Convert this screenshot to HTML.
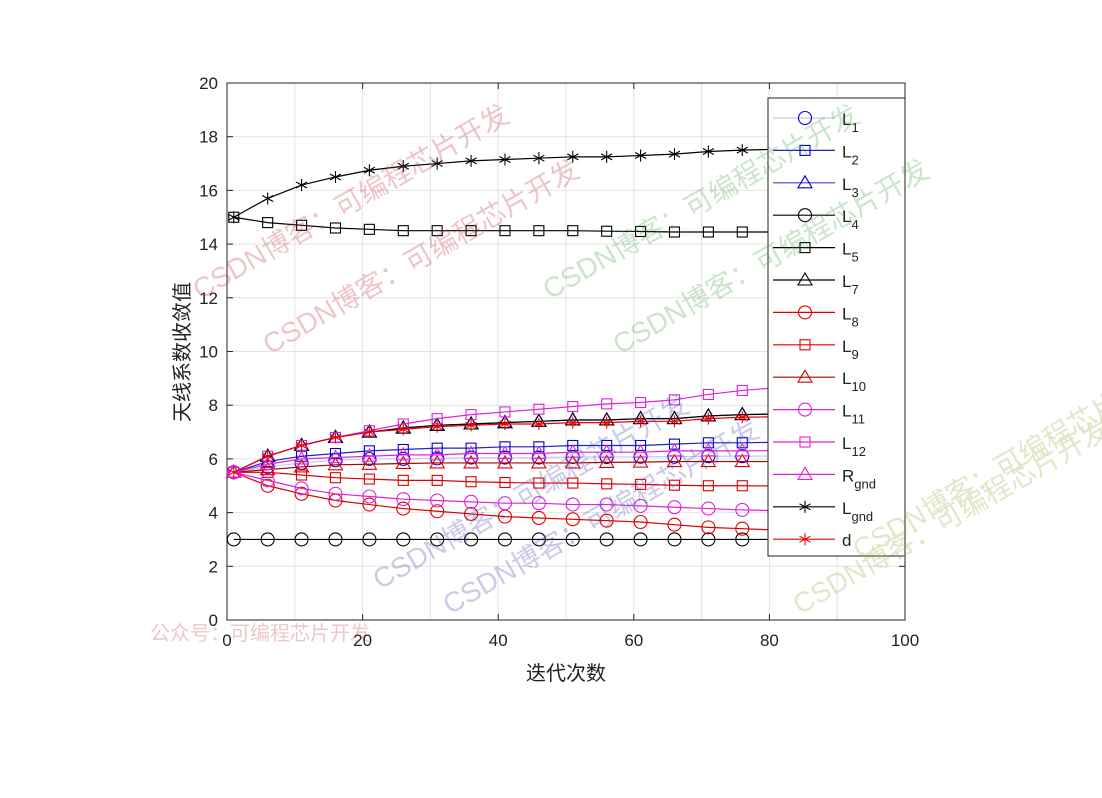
<!DOCTYPE html>
<html><head><meta charset="utf-8"><style>
body{margin:0;background:#fff}
svg text{font-family:"Liberation Sans","Noto Sans CJK SC",sans-serif}
</style></head><body>
<svg id="s" width="1102" height="793" xmlns="http://www.w3.org/2000/svg">
<rect width="1102" height="793" fill="#fff"/>
<g id="grid"></g>
<g id="data"></g>
<g id="legend"></g>
<g id="wm" font-size="28" opacity="0.28"></g>
</svg>
<script>
const NS="http://www.w3.org/2000/svg";
const L=227,R=905,T=83,B=620;
const X=v=>L+(R-L)*v/100, Y=v=>B-(B-T)*v/20;
function el(p,t,a,txt){const e=document.createElementNS(NS,t);for(const k in a)e.setAttribute(k,a[k]);if(txt!=null)e.textContent=txt;document.getElementById(p).appendChild(e);return e;}
for(let i=0;i<=10;i++){const x=L+(R-L)*i/10;if(i>0&&i<10)el('grid','line',{x1:x,y1:T,x2:x,y2:B,stroke:'#e4e4e4'});}
for(let i=0;i<=10;i++){const y=B-(B-T)*i/10;if(i>0&&i<10)el('grid','line',{x1:L,y1:y,x2:R,y2:y,stroke:'#e4e4e4'});}
el('grid','rect',{x:L,y:T,width:R-L,height:B-T,fill:'none',stroke:'#222'});
for(let i=0;i<=5;i++){const x=X(i*20);el('grid','line',{x1:x,y1:B,x2:x,y2:B-6,stroke:'#222'});el('grid','line',{x1:x,y1:T,x2:x,y2:T+6,stroke:'#222'});el('grid','text',{x:x,y:B+26,'font-size':17,'text-anchor':'middle',fill:'#222'},i*20);}
for(let i=0;i<=10;i++){const y=Y(i*2);el('grid','line',{x1:L,y1:y,x2:L+6,y2:y,stroke:'#222'});el('grid','line',{x1:R,y1:y,x2:R-6,y2:y,stroke:'#222'});el('grid','text',{x:L-9,y:y+6,'font-size':17,'text-anchor':'end',fill:'#222'},i*2);}
el('grid','text',{x:566,y:680,'font-size':20,'text-anchor':'middle',fill:'#222'},'迭代次数');
el('grid','text',{x:0,y:0,'font-size':20,'text-anchor':'middle',fill:'#222',transform:'translate(189,352) rotate(-90)'},'天线系数收敛值');
const xs=[];for(let i=1;i<=96;i+=5)xs.push(i);xs.push(100);
function ext(a,slope){const r=a.slice();while(r.length<xs.length)r.push(r[r.length-1]+slope);return r;}
const S=[
['#0000cc','#c8c8f0','o',ext([5.5,5.7,5.85,5.95,6.0,6.0,6.02,6.05,6.05,6.05,6.07,6.07,6.08,6.08,6.1,6.1],0.01)],
['#0000cc','#2020cc','s',ext([5.5,5.9,6.1,6.2,6.3,6.35,6.4,6.4,6.45,6.45,6.5,6.5,6.5,6.55,6.6,6.6],0.02)],
['#0000cc','#4040dd','t',ext([5.5,6.1,6.5,6.8,7.0,7.15,7.25,7.3,7.35,7.4,7.45,7.45,7.5,7.5,7.6,7.65],0.02)],
['#000','#000','o',ext(new Array(16).fill(3),0)],
['#000','#000','s',ext([15,14.8,14.7,14.6,14.55,14.5,14.5,14.5,14.5,14.5,14.5,14.48,14.47,14.45,14.45,14.45],0)],
['#000','#000','t',ext([5.5,6.1,6.5,6.8,7.0,7.15,7.25,7.3,7.35,7.4,7.45,7.45,7.5,7.5,7.6,7.65],0.02)],
['#dd0000','#dd0000','o',ext([5.5,5.0,4.7,4.45,4.3,4.15,4.05,3.95,3.85,3.8,3.75,3.7,3.65,3.55,3.45,3.4],-0.05)],
['#dd0000','#dd0000','s',ext([5.5,5.5,5.4,5.3,5.25,5.2,5.2,5.15,5.12,5.1,5.1,5.07,5.05,5.02,5.0,5.0],-0.01)],
['#dd0000','#aa0000','t',ext([5.5,5.6,5.7,5.78,5.8,5.83,5.85,5.85,5.85,5.85,5.85,5.87,5.88,5.9,5.9,5.9],0)],
['#dd22dd','#dd22dd','o',ext([5.5,5.2,4.9,4.7,4.6,4.5,4.45,4.4,4.35,4.35,4.3,4.3,4.25,4.2,4.15,4.1],-0.03)],
['#dd22dd','#dd22dd','s',ext([5.5,6.1,6.5,6.8,7.05,7.3,7.5,7.65,7.75,7.85,7.95,8.05,8.1,8.2,8.4,8.55],0.1)],
['#dd22dd','#dd22dd','t',ext([5.5,5.8,6.0,6.05,6.1,6.15,6.15,6.2,6.2,6.2,6.25,6.25,6.25,6.3,6.3,6.3],0.01)],
['#000','#000','*',ext([15,15.7,16.2,16.5,16.75,16.9,17.0,17.1,17.15,17.2,17.25,17.25,17.3,17.35,17.45,17.5],0.03)],
['#ee0000','#ee0000','*',ext([5.5,6.1,6.5,6.8,7.0,7.1,7.2,7.25,7.3,7.3,7.35,7.35,7.4,7.4,7.5,7.55],0.02)],
];
function mark(g,t,x,y,c){const a={fill:'none',stroke:c,'stroke-width':1.1};
 if(t=='o')el(g,'circle',Object.assign({cx:x,cy:y,r:6.5},a));
 else if(t=='s')el(g,'rect',Object.assign({x:x-5,y:y-5,width:10,height:10},a));
 else if(t=='t')el(g,'polygon',Object.assign({points:`${x},${y-7} ${x-7},${y+5} ${x+7},${y+5}`},a));
 else{for(const[dx,dy]of[[0,6],[5.5,3],[5.5,-3]])el(g,'line',{x1:x-dx,y1:y-dy,x2:x+dx,y2:y+dy,stroke:c,'stroke-width':1.1});}}
S.forEach(([c,lc,t,v])=>{el('data','polyline',{points:xs.map((x,i)=>X(x)+','+Y(v[i])).join(' '),fill:'none',stroke:lc,'stroke-width':1.2});
 xs.forEach((x,i)=>{if(x<=76)mark('data',t,X(x),Y(v[i]),c)});});
// legend
el('legend','rect',{x:768,y:98,width:137,height:458,fill:'#fff',stroke:'#222'});
const labs=[['L','1'],['L','2'],['L','3'],['L','4'],['L','5'],['L','7'],['L','8'],['L','9'],['L','10'],['L','11'],['L','12'],['R','gnd'],['L','gnd'],['d','']];
S.forEach(([c,lc,t],i)=>{const y=118+i*32.4;el('legend','line',{x1:773,y1:y,x2:835,y2:y,stroke:lc,'stroke-width':1.2});mark('legend',t,805,y,c);
 const tx=el('legend','text',{x:842,y:y+7,'font-size':17,fill:'#222'},labs[i][0]);
 if(labs[i][1]){const ts=document.createElementNS(NS,'tspan');ts.setAttribute('dy',7);ts.setAttribute('font-size',13);ts.textContent=labs[i][1];tx.appendChild(ts);}});
// watermarks
const W=[[200,300,'#c03040','CSDN博客：可编程芯片开发'],[270,355,'#c03040','CSDN博客：可编程芯片开发'],[550,300,'#40a040','CSDN博客：可编程芯片开发'],[620,355,'#40a040','CSDN博客：可编程芯片开发'],[380,590,'#4040b0','CSDN博客：可编程芯片开发'],[450,615,'#4040b0','CSDN博客：可编程芯片开发'],[800,615,'#a0a040','CSDN博客：可编程芯片开发'],[860,560,'#a0a040','CSDN博客：可编程芯片开发']];
W.forEach(([x,y,c,t])=>el('wm','text',{x:x,y:y,fill:c,transform:`rotate(-30 ${x} ${y})`},t));
el('wm','text',{x:150,y:640,fill:'#c03040','font-size':20},'公众号：可编程芯片开发');
</script>
</body></html>
